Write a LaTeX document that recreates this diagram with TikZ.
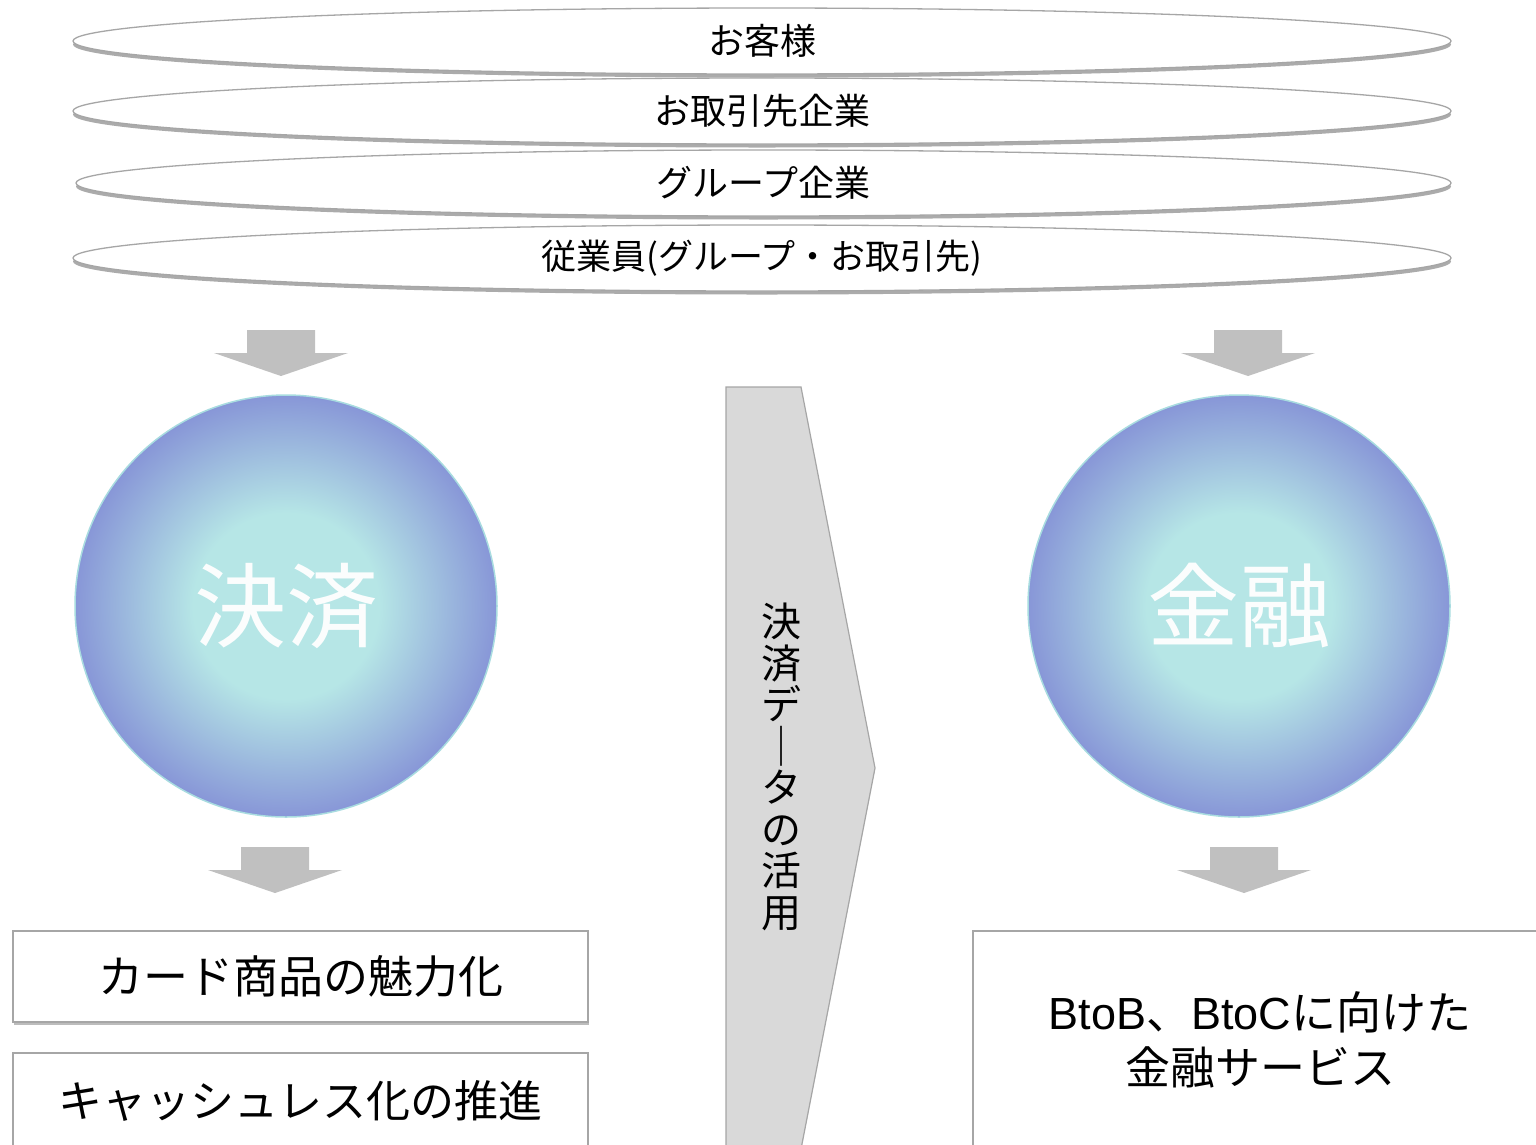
\documentclass[tikz,border=0pt]{standalone}
\usepackage{fontspec}
\setmainfont{Noto Sans CJK JP}
\newfontfamily\lat{Liberation Sans}
\usetikzlibrary{shapes.geometric,shadows}
\definecolor{edgegray}{HTML}{A6A6A6}
\definecolor{arrowgray}{HTML}{C0C0C0}
\definecolor{chevfill}{HTML}{D9D9D9}
\definecolor{ballin}{HTML}{B6E6E6}
\definecolor{ballout}{HTML}{777AD2}
\definecolor{ballrim}{HTML}{A8DCE0}
\pgfdeclareradialshading{ball}{\pgfpoint{0bp}{0bp}}{color(0bp)=(ballin); color(11bp)=(ballin); color(30bp)=(ballout); color(50bp)=(ballout)}
\begin{document}
\begin{tikzpicture}[x=1pt,y=-1pt,
  band/.style={ellipse, draw=edgegray, line width=1.3pt, fill=white,
    minimum width=1378pt, minimum height=66pt, inner sep=0pt,
    drop shadow={shadow xshift=0pt, shadow yshift=-3.5pt, opacity=0.5, fill=black!65},
    font=\fontsize{36}{40}\selectfont},
  ballnode/.style={circle, minimum size=422pt, inner sep=0pt, shading=ball,
    draw=ballrim, line width=1.5pt, text=white, text opacity=0.95,
    font=\fontsize{92}{100}\selectfont},
  boxnode/.style={rectangle, draw=edgegray, line width=1.2pt, fill=white,
    minimum width=575pt, inner sep=0pt,
    drop shadow={shadow xshift=1pt, shadow yshift=-3pt, opacity=0.4, fill=black!65},
    font=\fontsize{45}{55}\selectfont, align=center},
  darrow/.pic={\fill[arrowgray] (-34,0) -- (34,0) -- (34,23) -- (67,23) -- (0,46) -- (-67,23) -- (-34,23) -- cycle;}
]
\useasboundingbox (0,0) rectangle (1536,1144);
\fill[white] (0,0) rectangle (1536,1144);

% bands
\node[band] (b1) at (762,41) {お客様};
\node[band] (b2) at (762,111) {お取引先企業};
\node[band, minimum width=1375pt] (b3) at (763.5,183) {グループ企業};
\node[band] (b4) at (762,258) {\fontsize{35}{40}\selectfont 従業員(グループ・お取引先)};

% arrows
\pic at (281,330) {darrow};
\pic at (1248,330) {darrow};
\pic at (275,847) {darrow};
\pic at (1244,847) {darrow};

% balls
\node[ballnode] (kessai) at (286,606) {決済};
\node[ballnode] (kinyu) at (1239,606) {金融};

% chevron
\draw[fill=chevfill, draw=edgegray, line width=1.2pt, line join=miter,
  drop shadow={shadow xshift=0pt, shadow yshift=-2pt, opacity=0.2, fill=black!70}]
  (726,387) -- (801,387) -- (875,768) -- (801,1149) -- (726,1149) -- cycle;
\node[align=center, inner sep=0pt, font=\fontsize{40}{41.5}\selectfont] (data) at (781,767)
  {決\\済\\デ\\｜\\タ\\の\\活\\用};

% boxes
\node[boxnode, minimum height=91pt] (card) at (300.5,976.5) {カード商品の魅力化};
\node[boxnode, minimum height=96pt, font=\fontsize{44}{55}\selectfont] (cashless) at (300.5,1101) {キャッシュレス化の推進};
\node[boxnode, minimum width=574pt, minimum height=218pt] (fin) at (1260,1040)
  {{\lat BtoB}、{\lat BtoC}に向けた\\金融サービス};
\end{tikzpicture}
\end{document}
